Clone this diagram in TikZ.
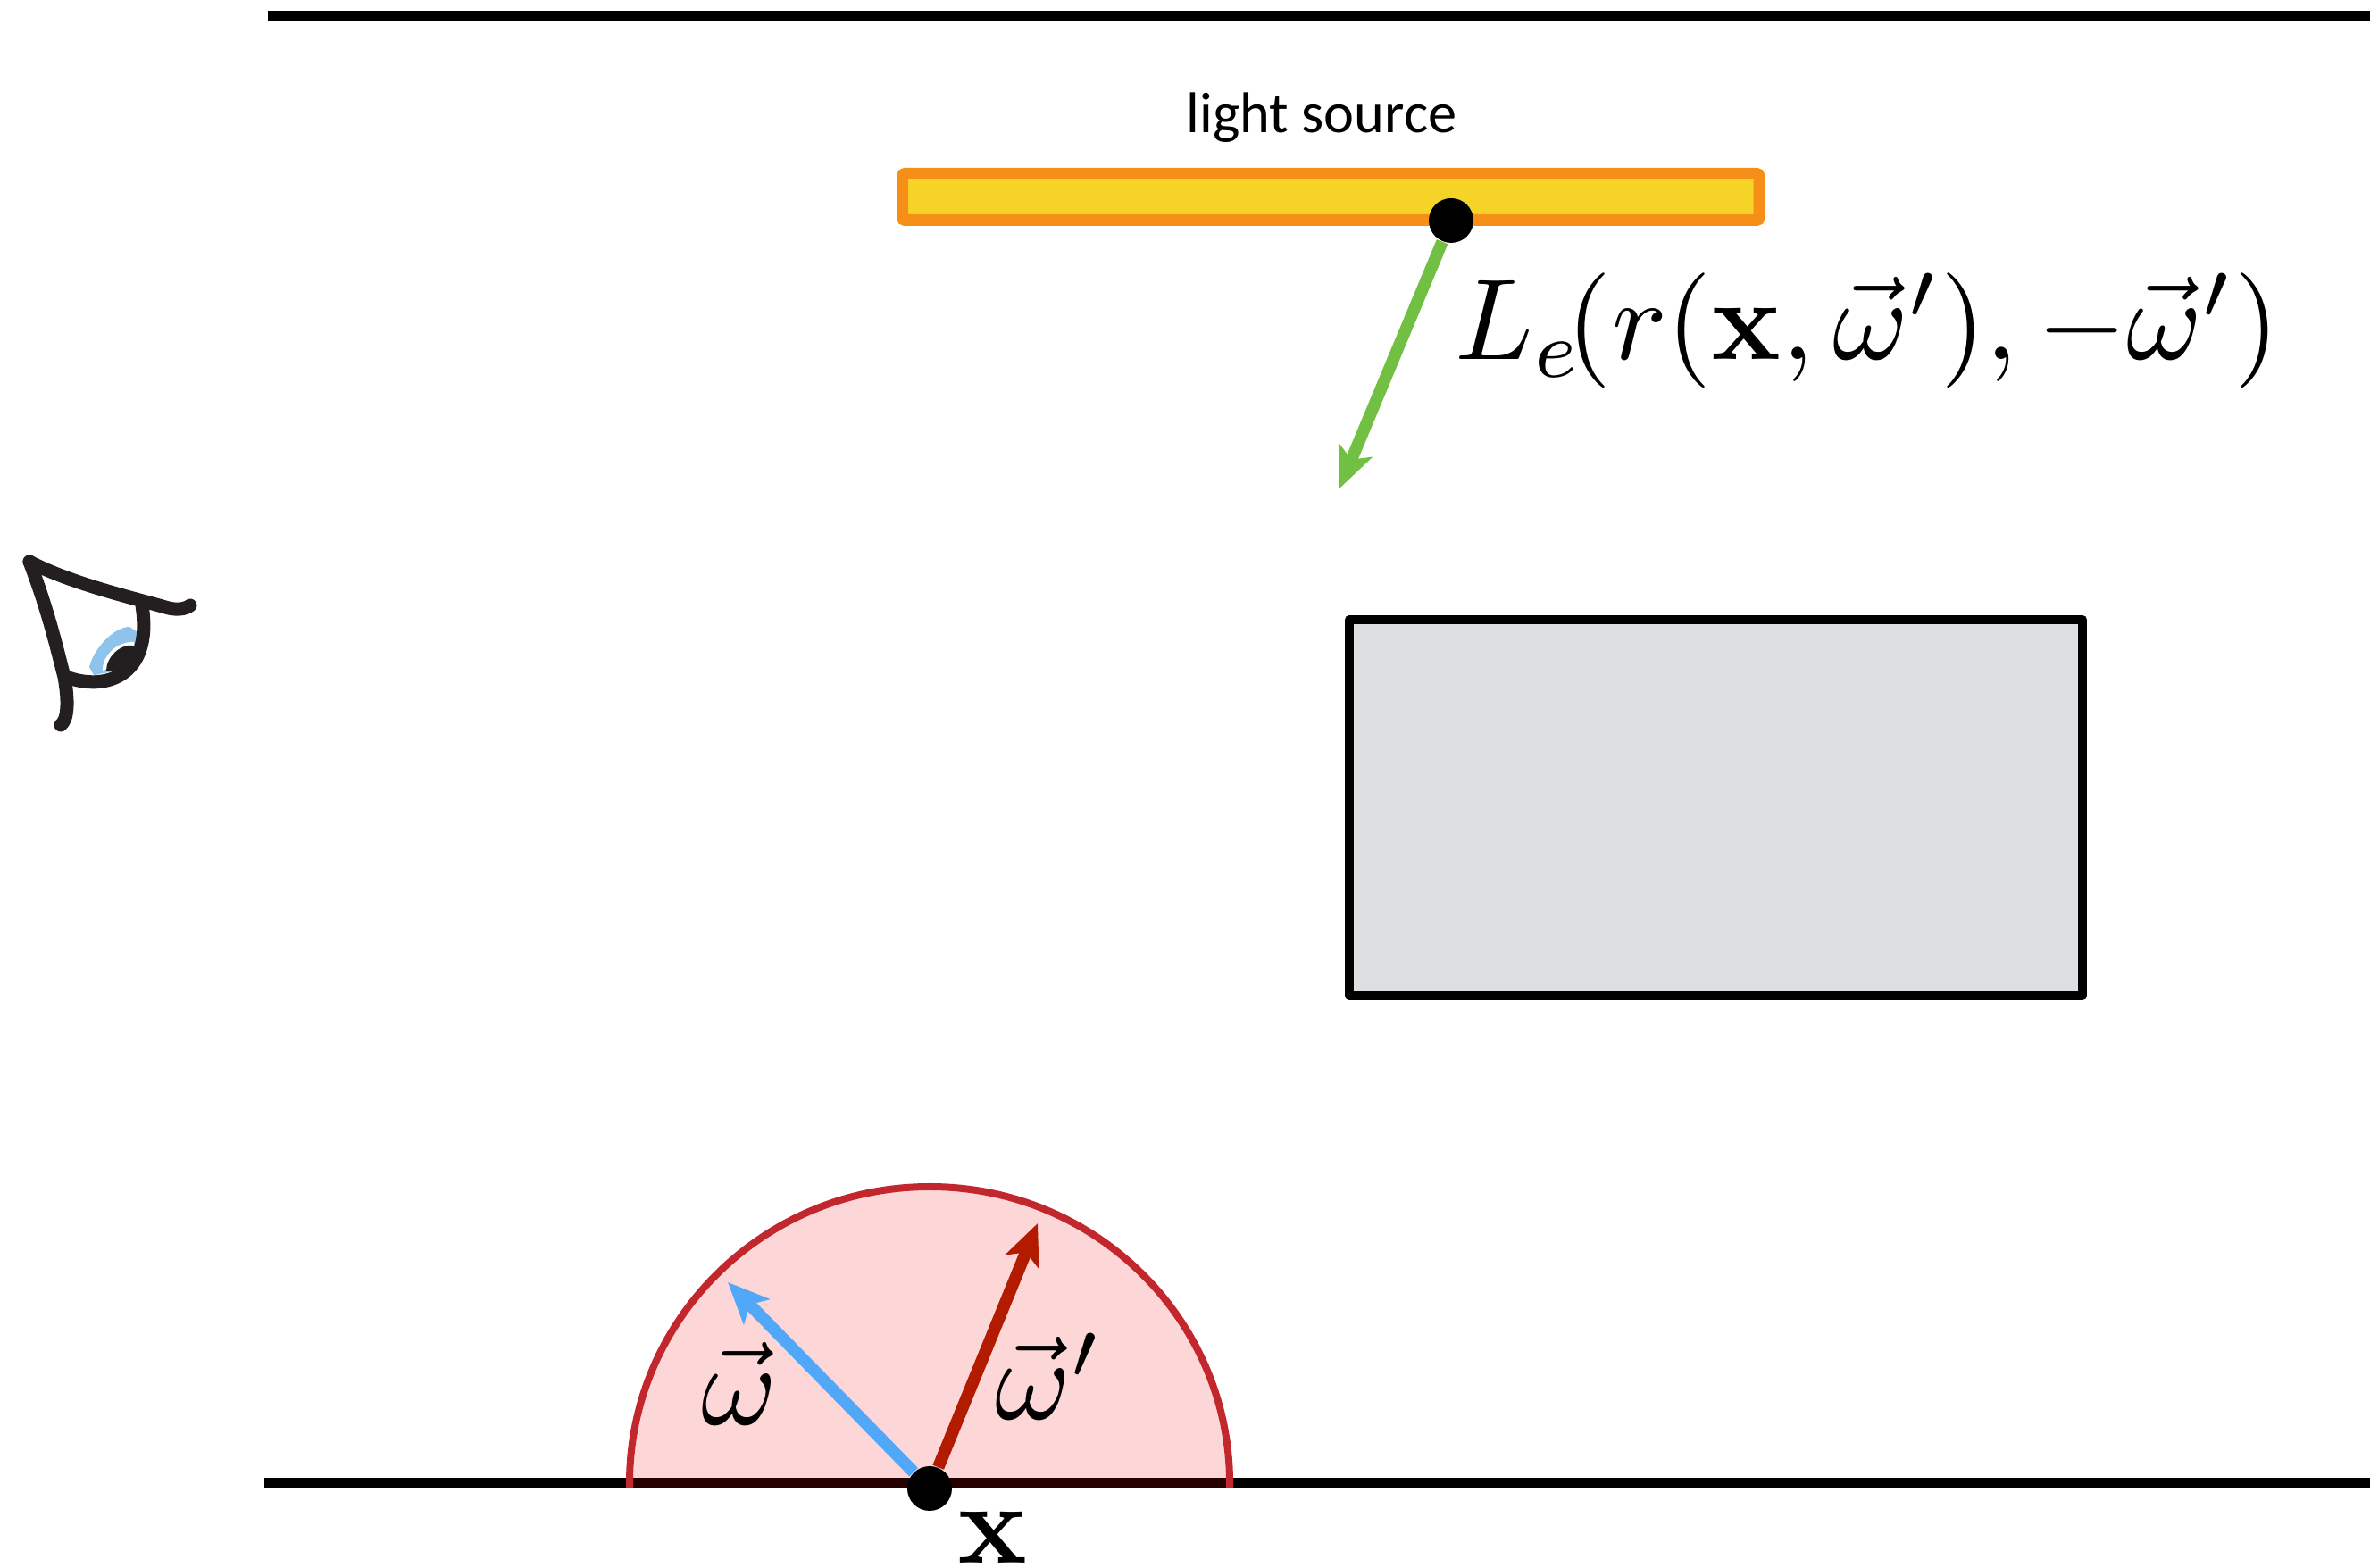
\documentclass[tikz,border=0pt]{standalone}
\usepackage{amsmath, amssymb}
\usepackage[no-math]{fontspec}
\newfontfamily\labelfont{Carlito}
\usetikzlibrary{calc,arrows.meta}
\definecolor{lightedge}{HTML}{F58F18}
\definecolor{lightfill}{HTML}{F6D327}
\definecolor{boxfill}{HTML}{DDDEE0}
\definecolor{domeedge}{HTML}{C1272D}
\definecolor{domefill}{HTML}{FDD6D8}
\definecolor{viewblue}{HTML}{52A8F8}
\definecolor{incred}{HTML}{B31B00}
\definecolor{raygreen}{HTML}{72C043}
\definecolor{eyeink}{HTML}{231F20}
\definecolor{irisblue}{HTML}{8EC3EC}
\tikzstyle{ray}=[line width=0.135cm,-{Stealth[length=0.46cm,width=0.40cm,inset=0.11cm]}]
\tikzstyle{wall}=[-,line width=0.11cm,black]
\tikzstyle{hitdot}=[circle,fill=black,inner sep=0pt,minimum size=0.5cm]
\tikzstyle{mathlabel}=[inner sep=0pt,scale=3.67]
\tikzstyle{eyeline}=[-,line width=0.15cm,eyeink,line cap=round,line join=round]
\begin{document}
\begin{tikzpicture}
\useasboundingbox (0,0) rectangle (26.54,17.56);
% walls
\coordinate (topl) at (3.00,17.38);
\coordinate (topr) at (26.54,17.38);
\coordinate (floorl) at (2.96,0.95);
\coordinate (floorr) at (26.54,0.95);
\draw[wall] (topl) -- (topr);
\draw[wall] (floorl) -- (floorr);
% hemisphere
\fill[domefill] (7.09,0.95) arc (180:0:3.32) -- cycle;
\draw[-,line width=0.11cm,black!85!red] (7.09,0.95) -- (13.73,0.95);
\draw[-,line width=0.08cm,domeedge] (7.05,0.90) -- (7.05,0.95) arc (180:0:3.36 and 3.32) -- (13.77,0.90);
% occluder
\draw[-,line width=0.10cm,line join=round,fill=boxfill] (15.11,10.62) rectangle (23.32,6.41);
% light source
\draw[-,line width=0.13cm,rounded corners=0.03cm,draw=lightedge,fill=lightfill] (10.105,15.615) rectangle (19.70,15.095);
\node[anchor=base,inner sep=0pt] (lightlabel) at (14.80,16.07) {\labelfont\fontsize{18.3}{20}\selectfont light source};
% points and rays
\node[hitdot] (ylight) at (16.25,15.09) {};
\node[hitdot] (xfloor) at (10.41,0.89) {};
\coordinate (greentip) at (15.00,12.09);
\coordinate (bluetip) at (8.15,3.20);
\coordinate (redtip) at (11.62,3.86);
\draw[ray,raygreen] (ylight) -- (greentip);
\draw[ray,viewblue] (xfloor) -- (bluetip);
\draw[ray,incred] (xfloor) -- (redtip);
% labels
\node[mathlabel,anchor=base west] (radiance) at (16.27,13.53) {$L_e\mkern-2.5mu(r(\mathbf{x},\vec{\omega}'),-\vec{\omega}')$};
\node[mathlabel,anchor=base] (omega) at (8.28,1.60) {$\vec{\omega}$};
\node[mathlabel,anchor=base] (omegap) at (11.75,1.66) {$\vec{\omega}'$};
\node[mathlabel,anchor=base] (xlabel) at (11.12,0.05) {$\mathbf{x}$};
% eye
\fill[irisblue] (1.00,10.09) .. controls (1.05,10.30) and (1.28,10.54) .. (1.45,10.54)
  -- (1.54,10.48) -- (1.55,10.20) -- (1.33,10.05) -- (1.05,10.00) -- cycle;
\fill[white] (1.15,10.05) .. controls (1.14,10.20) and (1.30,10.38) .. (1.50,10.37)
  -- (1.50,10.20) -- cycle;
\fill[eyeink] (1.19,10.05) .. controls (1.19,10.20) and (1.35,10.35) .. (1.48,10.33)
  -- (1.58,10.30) -- (1.55,10.20) -- (1.33,10.03) -- cycle;
\draw[eyeline] (0.33,11.27) .. controls (0.80,11.02) and (1.55,10.85) .. (1.85,10.76) .. controls (1.98,10.72) and (2.08,10.74) .. (2.13,10.78);
\draw[eyeline] (0.33,11.27) .. controls (0.55,10.70) and (0.66,10.20) .. (0.72,9.98) .. controls (0.77,9.70) and (0.76,9.50) .. (0.68,9.44);
\draw[eyeline] (0.74,9.98) .. controls (1.15,9.82) and (1.72,9.96) .. (1.59,10.78);
\end{tikzpicture}
\end{document}
